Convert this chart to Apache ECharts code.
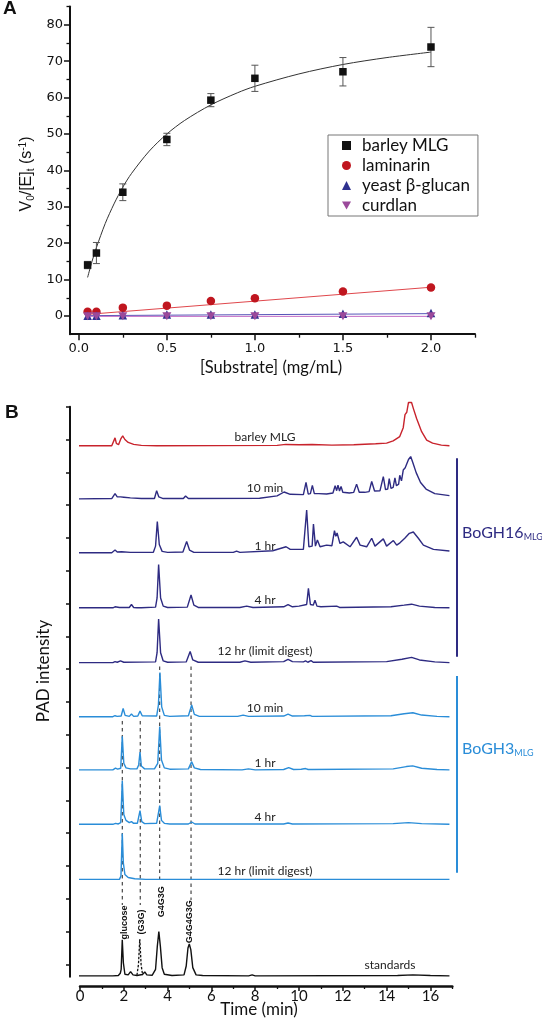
<!DOCTYPE html>
<html><head><meta charset="utf-8">
<script src="https://cdn.jsdelivr.net/npm/echarts@6/dist/echarts.min.js"></script>
<style>html,body{margin:0;padding:0;background:#fff}#c{width:542px;height:1020px}</style>
</head><body><div id="c"></div>
<script>
// ---------- Panel A data ----------
const substrate = [0.05, 0.1, 0.25, 0.5, 0.75, 1.0, 1.5, 2.0];
const barleyMLG = [14.0, 17.3, 34.0, 48.5, 59.3, 65.3, 67.1, 73.9];
const barleyErr = [1.0, 2.9, 2.3, 1.7, 1.8, 3.6, 3.9, 5.4];
const laminarin = [1.2, 1.2, 2.3, 2.85, 4.1, 4.9, 6.7, 7.8];
const yeastGlucan = [0.1, 0.1, 0.2, 0.4, 0.4, 0.4, 0.6, 0.8];
const curdlan = [-0.1, -0.1, -0.1, -0.1, -0.1, -0.1, -0.1, -0.1];
const barleyFit = [[0.05,10.6],[0.075,15.0],[0.1,18.8],[0.15,25.4],[0.2,30.8],[0.25,35.4],[0.3,39.2],[0.4,45.3],[0.5,50.0],[0.6,53.7],[0.75,58.0],[0.9,61.3],[1.0,63.1],[1.25,66.5],[1.5,69.1],[1.75,71.0],[2.0,72.5]];
const laminarinFit = [[0.05,0.45],[2.0,7.9]];
const yeastFit = [[0.05,0.1],[2.0,0.65]];
const curdlanFit = [[0.05,-0.1],[2.0,-0.1]];
const xTicksA = [0, 0.5, 1.0, 1.5, 2.0];
const xMinorA = [0.25, 0.75, 1.25, 1.75, 2.25];
const yTicksA = [0, 10, 20, 30, 40, 50, 60, 70, 80];
const yMinorA = [5, 15, 25, 35, 45, 55, 65, 75, 85];

// ---------- Panel B data (time in min, intensity above each baseline) ----------
const traceNames = ['barley MLG','10 min','1 hr','4 hr','12 hr (limit digest)','10 min','1 hr','4 hr','12 hr (limit digest)','standards'];
const traceOffsets = [15.81, 14.19, 12.55, 10.87, 9.20, 7.55, 5.93, 4.27, 2.59, -0.35];
const barleyTrace = [[-0.15,0],[1.45,0],[1.54,0.03],[1.6,0.24],[1.66,0.07],[1.76,0.03],[1.87,0.22],[1.95,0.30],[2.05,0.19],[2.2,0.1],[2.45,0.04],[2.8,0.01],[3.5,0],[9.0,0.01],[9.4,0.04],[10.0,0.03],[10.6,0.04],[11.5,0.02],[12.5,0.03],[13.5,0.06],[14.0,0.08],[14.3,0.15],[14.6,0.28],[14.76,0.55],[14.84,0.95],[14.92,1.02],[15.0,1.32],[15.07,1.27],[15.14,1.32],[15.22,1.14],[15.37,0.83],[15.6,0.43],[15.83,0.17],[16.1,0.08],[16.5,0.02],[16.87,0]];
const gh16_10min = [[-0.15,0],[1.45,0.01],[1.6,0.16],[1.7,0.06],[1.85,0.06],[2.0,0.05],[2.3,0.03],[2.8,0.01],[3.4,0.01],[3.5,0.25],[3.6,0.06],[3.8,0.01],[4.72,0.01],[4.82,0.09],[4.95,0.01],[8.2,0.02],[9.0,0.09],[9.32,0.21],[9.6,0.14],[10.2,0.13],[10.32,0.5],[10.42,0.15],[10.52,0.16],[10.61,0.41],[10.7,0.16],[10.9,0.16],[11.26,0.15],[11.55,0.18],[11.65,0.4],[11.72,0.25],[11.78,0.42],[11.85,0.24],[11.92,0.38],[12.0,0.2],[12.3,0.18],[12.5,0.2],[12.63,0.45],[12.75,0.2],[13.0,0.2],[13.2,0.22],[13.32,0.53],[13.45,0.24],[13.7,0.25],[13.85,0.68],[13.95,0.28],[14.05,0.3],[14.12,0.62],[14.2,0.32],[14.3,0.35],[14.38,0.64],[14.45,0.4],[14.55,0.45],[14.6,0.72],[14.68,0.55],[14.76,0.88],[14.85,0.95],[15.0,1.2],[15.1,1.29],[15.2,1.1],[15.35,0.8],[15.55,0.5],[15.8,0.3],[16.2,0.16],[16.87,0.1]];
const gh16_1hr = [[-0.15,0],[1.45,0],[1.6,0.08],[1.7,0.02],[1.9,0.03],[2.3,0.01],[3.35,0.01],[3.45,0.2],[3.53,0.95],[3.62,0.25],[3.75,0.04],[4.0,0.01],[4.7,0.02],[4.87,0.34],[5.0,0.08],[5.2,0.01],[7.0,0.01],[7.15,0.05],[7.3,0.01],[8.8,0.06],[9.41,0.18],[9.6,0.1],[10.2,0.1],[10.35,1.30],[10.45,0.18],[10.6,0.2],[10.66,0.87],[10.75,0.2],[10.84,0.39],[10.96,0.18],[11.26,0.23],[11.5,0.21],[11.62,0.67],[11.68,0.5],[11.74,0.6],[11.8,0.45],[11.87,0.28],[12.02,0.33],[12.33,0.18],[12.63,0.47],[12.79,0.23],[13.09,0.18],[13.32,0.44],[13.47,0.2],[13.85,0.42],[14.0,0.2],[14.31,0.37],[14.46,0.23],[14.61,0.3],[14.83,0.44],[15.04,0.59],[15.22,0.63],[15.45,0.44],[15.68,0.23],[16.14,0.1],[16.87,0.05]];
const gh16_4hr = [[-0.15,0],[1.5,0],[1.6,0.03],[1.8,0.01],[2.25,0.01],[2.35,0.1],[2.45,0.01],[2.6,0.0],[2.68,0.05],[2.8,0],[3.45,0.02],[3.52,0.3],[3.59,1.32],[3.68,0.3],[3.8,0.05],[4.0,0.01],[4.9,0.02],[5.07,0.39],[5.2,0.08],[5.4,0.01],[7.3,0.01],[7.61,0.05],[7.9,0.01],[9.3,0.03],[9.5,0.1],[9.7,0.03],[10.0,0.05],[10.35,0.1],[10.43,0.59],[10.52,0.1],[10.65,0.08],[10.73,0.23],[10.82,0.05],[11.0,0.03],[11.72,0.05],[11.85,0.01],[14.2,0.03],[14.8,0.08],[15.14,0.11],[15.5,0.05],[16.2,0.01],[16.87,0]];
const gh16_12hr = [[-0.15,0],[1.5,0],[1.6,0.03],[1.7,0.01],[1.85,0.05],[2.0,0.01],[3.45,0.02],[3.52,0.3],[3.59,1.33],[3.68,0.3],[3.8,0.05],[4.0,0.01],[4.85,0.02],[5.03,0.34],[5.15,0.08],[5.4,0.01],[7.3,0.01],[7.53,0.05],[7.8,0.01],[9.3,0.03],[9.5,0.1],[9.7,0.03],[10.2,0.02],[10.3,0.05],[10.4,0.01],[10.55,0.06],[10.65,0.01],[14.0,0.03],[14.7,0.1],[15.14,0.16],[15.5,0.08],[16.2,0.02],[16.87,0]];
const gh3_10min = [[-0.15,0],[1.5,0],[1.6,0.03],[1.7,0.01],[1.88,0.02],[1.97,0.25],[2.06,0.04],[2.25,0.01],[2.35,0.08],[2.45,0.01],[2.64,0.02],[2.74,0.17],[2.84,0.03],[3.5,0.02],[3.58,0.35],[3.65,1.35],[3.73,0.3],[3.85,0.04],[4.1,0.01],[4.95,0.03],[5.1,0.36],[5.22,0.07],[5.45,0.01],[7.2,0.01],[7.45,0.05],[7.7,0.01],[9.3,0.02],[9.5,0.08],[9.7,0.02],[10.25,0.03],[10.5,0.04],[10.6,0.01],[14.2,0.03],[14.8,0.09],[15.2,0.12],[15.6,0.05],[16.3,0.01],[16.87,0]];
const gh3_1hr = [[-0.15,0],[1.5,0],[1.62,0.05],[1.72,0.02],[1.86,0.05],[1.93,1.02],[2.0,0.2],[2.1,0.06],[2.3,0.03],[2.6,0.03],[2.68,0.15],[2.74,0.54],[2.8,0.12],[2.95,0.03],[3.4,0.03],[3.55,0.2],[3.64,1.32],[3.72,0.3],[3.85,0.06],[4.1,0.02],[4.95,0.03],[5.1,0.25],[5.22,0.06],[5.5,0.01],[7.4,0.0],[7.69,0.03],[8.0,0.0],[9.3,0.01],[9.53,0.07],[9.75,0.01],[10.1,0.02],[10.3,0.04],[10.42,0.01],[10.5,0.05],[10.6,0.01],[14.3,0.03],[14.9,0.1],[15.19,0.12],[15.6,0.05],[16.3,0.01],[16.87,0]];
const gh3_4hr = [[-0.15,0],[1.5,0],[1.62,0.03],[1.75,0.01],[1.86,0.05],[1.93,1.33],[2.0,0.3],[2.1,0.12],[2.25,0.05],[2.35,0.08],[2.45,0.03],[2.62,0.03],[2.74,0.42],[2.82,0.08],[2.95,0.02],[3.5,0.03],[3.64,0.57],[3.72,0.12],[3.85,0.03],[4.1,0.01],[4.95,0.01],[5.1,0.07],[5.25,0.01],[9.3,0.01],[9.5,0.04],[9.7,0.01],[14.3,0.02],[15.0,0.05],[15.6,0.02],[16.87,0]];
const gh3_12hr = [[-0.15,0],[1.8,0],[1.87,0.1],[1.93,1.40],[1.98,0.5],[2.05,0.15],[2.2,0.06],[2.5,0.02],[3.0,0.0],[16.87,0]];
const standardsTrace = [[-0.15,0],[1.5,0.0],[1.56,0.02],[1.75,0.01],[1.84,0.08],[1.88,0.2],[1.93,1.10],[1.98,0.4],[2.05,0.05],[2.2,0.03],[2.31,0.13],[2.42,0.03],[2.6,0.01],[2.85,0.04],[2.96,0.12],[3.05,0.03],[3.3,0.02],[3.45,0.2],[3.53,0.9],[3.6,1.35],[3.67,0.9],[3.75,0.25],[3.85,0.05],[4.2,0.01],[4.75,0.03],[4.85,0.3],[4.93,0.85],[4.99,0.97],[5.06,0.8],[5.15,0.25],[5.3,0.03],[5.6,0.01],[7.7,0.0],[7.86,0.03],[8.0,0.0],[14.5,0.01],[15.2,0.03],[16.0,0.01],[16.87,0]];
const g3gStandard = [[2.6,0.02],[2.67,0.35],[2.73,1.12],[2.79,0.35],[2.86,0.02]];
const standardNames = ['glucose', '(G3G)', 'G4G3G', 'G4G4G3G'];
const markerTimes = [1.93, 2.75, 3.64, 5.07];
const xTicksB = [0, 2, 4, 6, 8, 10, 12, 14, 16];
const xMinorB = [1, 3, 5, 7, 9, 11, 13, 15, 17];
const yTicksB = [0,1,2,3,4,5,6,7,8,9,10,11,12,13,14,15,16,17];

// ---------- colours ----------
const RED = '#c8232c', NAVY = '#2e2b82', LBLUE = '#2a8dd8', BLACK = '#111';
const traceColors = [RED, NAVY, NAVY, NAVY, NAVY, LBLUE, LBLUE, LBLUE, LBLUE, BLACK];
const traceData = [barleyTrace, gh16_10min, gh16_1hr, gh16_4hr, gh16_12hr, gh3_10min, gh3_1hr, gh3_4hr, gh3_12hr, standardsTrace];

const chart = echarts.init(document.getElementById('c'), null, {width: 542, height: 1020});

const axLine = {onZero: false, lineStyle: {color: '#111', width: 2}};
const noLine = {show: false, onZero: false};
const hidden = {show: false};

const gridA = {left: 70, top: 6.6, width: 405, height: 327.6};
const gridB = {left: 80, top: 406.7, width: 372.3, height: 579.3};
const gridBy = {left: 70, top: 406.7, width: 380, height: 570};

const series = [];
// Panel A fits
series.push({type: 'line', xAxisIndex: 0, yAxisIndex: 0, data: barleyFit, smooth: 0.3, showSymbol: false, lineStyle: {color: '#333', width: 1}, silent: true, z: 1});
series.push({type: 'line', xAxisIndex: 0, yAxisIndex: 0, data: laminarinFit, showSymbol: false, lineStyle: {color: '#e0474c', width: 1}, silent: true, z: 1});
series.push({type: 'line', xAxisIndex: 0, yAxisIndex: 0, data: yeastFit, showSymbol: false, lineStyle: {color: '#5656b8', width: 1}, silent: true, z: 1});
series.push({type: 'line', xAxisIndex: 0, yAxisIndex: 0, data: curdlanFit, showSymbol: false, lineStyle: {color: '#c46ac4', width: 1}, silent: true, z: 1});
// error bars
series.push({
  type: 'custom', xAxisIndex: 0, yAxisIndex: 0, z: 2, silent: true,
  data: substrate.map((x, i) => [x, barleyMLG[i] - barleyErr[i], barleyMLG[i] + barleyErr[i]]),
  encode: {x: 0, y: [1, 2]},
  renderItem: (params, api) => {
    const x = api.value(0);
    const lo = api.coord([x, api.value(1)]);
    const hi = api.coord([x, api.value(2)]);
    const w = 3.5, st = {stroke: '#555', lineWidth: 1};
    return {type: 'group', children: [
      {type: 'line', shape: {x1: lo[0], y1: lo[1], x2: hi[0], y2: hi[1]}, style: st},
      {type: 'line', shape: {x1: lo[0]-w, y1: lo[1], x2: lo[0]+w, y2: lo[1]}, style: st},
      {type: 'line', shape: {x1: hi[0]-w, y1: hi[1], x2: hi[0]+w, y2: hi[1]}, style: st}
    ]};
  }
});
const DOWN_TRI = 'path://M0,0L10,0L5,8.7Z';
series.push({name: 'barley MLG', type: 'scatter', xAxisIndex: 0, yAxisIndex: 0, symbol: 'rect', symbolSize: 7.5, itemStyle: {color: '#111', opacity: 1}, data: substrate.map((x, i) => [x, barleyMLG[i]]), z: 5});
series.push({name: 'laminarin', type: 'scatter', xAxisIndex: 0, yAxisIndex: 0, symbol: 'circle', symbolSize: 8.5, itemStyle: {color: '#c0161f', opacity: 1}, data: substrate.map((x, i) => [x, laminarin[i]]), z: 5});
series.push({name: 'yeast β-glucan', type: 'scatter', xAxisIndex: 0, yAxisIndex: 0, symbol: 'triangle', symbolSize: 8.5, itemStyle: {color: '#2f318f', opacity: 1}, data: substrate.map((x, i) => [x, yeastGlucan[i]]), z: 6});
series.push({name: 'curdlan', type: 'scatter', xAxisIndex: 0, yAxisIndex: 0, symbol: DOWN_TRI, symbolSize: [9, 8], itemStyle: {color: '#9b4a9b', opacity: 1}, data: substrate.map((x, i) => [x, curdlan[i]]), z: 7});

// Panel B traces
traceData.forEach((tr, i) => {
  series.push({type: 'line', xAxisIndex: 2, yAxisIndex: 2, clip: false, showSymbol: false, silent: true,
    data: tr.map(p => [p[0], traceOffsets[i] + p[1]]),
    lineStyle: {color: traceColors[i], width: 1.4}, z: 3});
});
series.push({type: 'line', xAxisIndex: 2, yAxisIndex: 2, clip: false, showSymbol: false, silent: true,
  data: g3gStandard.map(p => [p[0], traceOffsets[9] + p[1]]),
  lineStyle: {color: BLACK, width: 1.3, type: [2.5, 1.5]}, z: 3});
// dashed marker lines
const markerRanges = [[7.42, 1.81], [7.42, 1.81], [9.08, 2.48], [9.08, 1.96]];
markerTimes.forEach((t, i) => {
  series.push({type: 'line', xAxisIndex: 2, yAxisIndex: 2, clip: false, showSymbol: false, silent: true,
    data: [[t, markerRanges[i][0]], [t, markerRanges[i][1]]],
    lineStyle: {color: '#222', width: 1, type: [3.5, 3.5]}, z: 2});
});

// Labels
const TXT = 'Lato';
const graphics = [];
function txt(x, y, text, opt) {
  graphics.push(Object.assign({type: 'text', x: x, y: y, style: Object.assign({text: text, fontFamily: TXT, fontSize: 12, fill: '#222', align: 'center', verticalAlign: 'middle'}, opt || {})}));
}
txt(3, 9, 'A', {fontFamily: 'Liberation Sans', fontWeight: 'bold', fontSize: 19, fill: '#111', align: 'left'});
txt(5, 413, 'B', {fontFamily: 'Liberation Sans', fontWeight: 'bold', fontSize: 19, fill: '#111', align: 'left'});
graphics.push({type: 'text', x: 27, y: 174, rotation: Math.PI / 2, style: {
  text: 'V{sub|0}/[E]{sub|t} (s{sup|-1})', fontFamily: 'Liberation Sans', fontSize: 16, fill: '#111', align: 'center', verticalAlign: 'middle',
  rich: {sub: {fontSize: 10, fontFamily: 'Liberation Sans', verticalAlign: 'bottom', padding: [8, 0, 0, 0]}, sup: {fontSize: 10, fontFamily: 'Liberation Sans', verticalAlign: 'top', padding: [0, 0, 8, 0]}}
}});
txt(271, 368, '[Substrate] (mg/mL)', {fontSize: 16.5, fill: '#111'});
graphics.push({type: 'text', x: 44, y: 671, rotation: Math.PI / 2, style: {text: 'PAD intensity', fontFamily: TXT, fontSize: 17, fill: '#111', align: 'center', verticalAlign: 'middle'}});
txt(259, 1010, 'Time (min)', {fontSize: 17, fill: '#111'});
const traceLabelY = [436.7, 487.7, 546, 600, 651, 708.3, 762.7, 816.7, 871];
traceLabelY.forEach((y, i) => txt(265, y, traceNames[i]));
txt(390, 965, traceNames[9]);
const stdLabelPos = [[124.3, 922.5], [141.3, 922], [162, 901.7], [190, 921.7]];
standardNames.forEach((s, i) => {
  graphics.push({type: 'text', x: stdLabelPos[i][0], y: stdLabelPos[i][1], rotation: Math.PI / 2, style: {text: s, fontFamily: 'Liberation Sans', fontWeight: 'bold', fontSize: 9, fill: '#111', align: 'center', verticalAlign: 'middle'}});
});
graphics.push({type: 'line', shape: {x1: 457, y1: 458.3, x2: 457, y2: 656.7}, style: {stroke: NAVY, lineWidth: 2}});
graphics.push({type: 'line', shape: {x1: 457, y1: 676, x2: 457, y2: 872.7}, style: {stroke: LBLUE, lineWidth: 2}});
graphics.push({type: 'text', x: 462, y: 533, style: {text: 'BoGH16{s|MLG}', fontFamily: TXT, fontSize: 16, fill: NAVY, align: 'left', verticalAlign: 'middle',
  rich: {s: {fontSize: 9, fontFamily: TXT, fill: NAVY, verticalAlign: 'bottom', padding: [9, 0, 0, 0]}}}});
graphics.push({type: 'text', x: 462, y: 749, style: {text: 'BoGH3{s|MLG}', fontFamily: TXT, fontSize: 16, fill: LBLUE, align: 'left', verticalAlign: 'middle',
  rich: {s: {fontSize: 9, fontFamily: TXT, fill: LBLUE, verticalAlign: 'bottom', padding: [9, 0, 0, 0]}}}});

const option = {
  animation: false,
  backgroundColor: '#fff',
  grid: [gridA, gridA, gridB, gridBy, gridB],
  legend: {
    data: ['barley MLG', 'laminarin', 'yeast β-glucan', 'curdlan'],
    orient: 'vertical', left: 328, top: 135, itemGap: 3, itemWidth: 9, itemHeight: 9,
    padding: [2, 8, 2, 14], borderColor: '#777', borderWidth: 1,
    textStyle: {fontFamily: TXT, fontSize: 17, color: '#111', padding: [0, 0, 0, 6]}
  },
  xAxis: [
    {gridIndex: 0, type: 'value', min: -0.05, max: 2.25, axisLine: axLine, splitLine: hidden,
     axisTick: {customValues: xTicksA, length: 6, lineStyle: {color: '#111', width: 1.5}},
     axisLabel: {customValues: xTicksA, formatter: v => v.toFixed(1), fontFamily: 'DejaVu Sans', fontSize: 13, color: '#111', margin: 8}},
    {gridIndex: 1, type: 'value', min: -0.05, max: 2.25, axisLine: noLine, splitLine: hidden,
     axisTick: {customValues: xMinorA, length: 3.5, lineStyle: {color: '#111', width: 1.3}}, axisLabel: hidden},
    {gridIndex: 2, type: 'value', min: 0, max: 17, axisLine: {onZero: false, lineStyle: {color: '#111', width: 2.5}}, splitLine: hidden,
     axisTick: {customValues: xTicksB, length: 5, lineStyle: {color: '#111', width: 1.5}},
     axisLabel: {customValues: xTicksB, fontFamily: TXT, fontSize: 15, color: '#111', margin: 3}},
    {gridIndex: 3, type: 'value', min: 0, max: 17, show: false, axisLine: noLine},
    {gridIndex: 4, type: 'value', min: 0, max: 17, axisLine: noLine, splitLine: hidden,
     axisTick: {customValues: xMinorB, length: 3, lineStyle: {color: '#111', width: 1.3}}, axisLabel: hidden}
  ],
  yAxis: [
    {gridIndex: 0, type: 'value', min: -5, max: 85, axisLine: axLine, splitLine: hidden,
     axisTick: {customValues: yTicksA, length: 6, lineStyle: {color: '#111', width: 1.5}},
     axisLabel: {customValues: yTicksA, fontFamily: 'DejaVu Sans', fontSize: 13, color: '#111', margin: 7}},
    {gridIndex: 1, type: 'value', min: -5, max: 85, axisLine: noLine, splitLine: hidden,
     axisTick: {customValues: yMinorA, length: 3.5, lineStyle: {color: '#111', width: 1.3}}, axisLabel: hidden},
    {gridIndex: 2, type: 'value', min: -0.659, max: 17, show: false, axisLine: noLine},
    {gridIndex: 3, type: 'value', min: -0.378, max: 17, axisLine: axLine, splitLine: hidden,
     axisTick: {customValues: yTicksB, length: 4, lineStyle: {color: '#111', width: 1.5}}, axisLabel: hidden},
    {gridIndex: 4, type: 'value', min: -0.659, max: 17, show: false, axisLine: noLine}
  ],
  series: series,
  graphic: graphics
};
chart.setOption(option);
</script></body></html>
